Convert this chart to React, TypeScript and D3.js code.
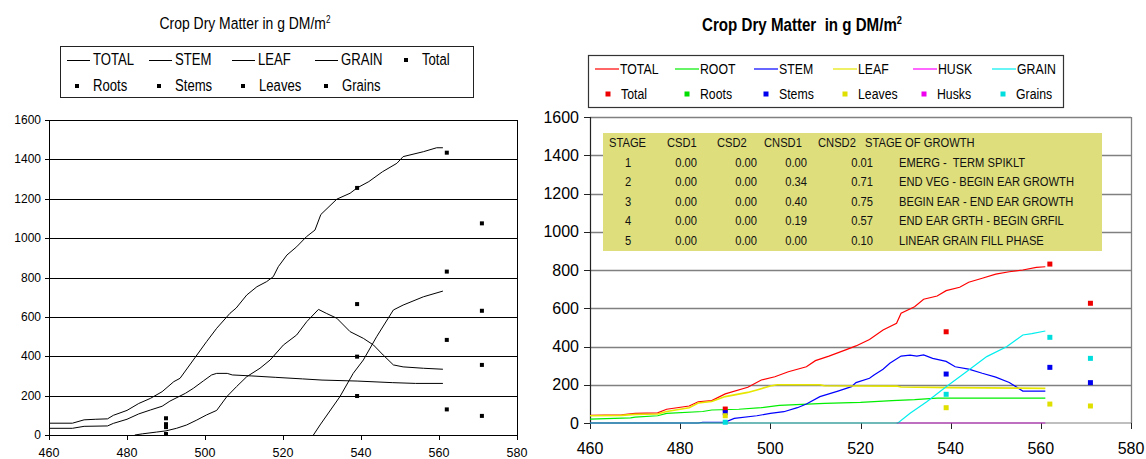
import React from 'react';
import * as d3 from 'd3';

type Pt = [number, number];

// ---- left chart (black lines) ----
const leftTotal: Pt[] = [
  [460, 60], [466, 60], [469, 77], [472, 80], [475, 82], [476.5, 100], [480, 125], [483, 160],
  [486, 186], [489, 220], [492, 271], [493.6, 288], [497, 381], [500.4, 474], [503, 542],
  [506.4, 618], [508, 645], [510.7, 711], [513.3, 753], [515.8, 779], [517.5, 804], [518.8, 855],
  [521, 914], [523.5, 956], [526, 1007], [528.2, 1041], [529.7, 1120], [533.8, 1198], [537.2, 1228],
  [539, 1255], [542, 1287], [545.5, 1337], [549.2, 1380], [550.8, 1414], [556, 1439], [559.4, 1459],
  [561, 1459],
];
const leftStem: Pt[] = [
  [482, 0], [484, 6], [487.6, 15], [490, 21], [492.7, 34], [495.3, 51], [497.9, 76], [500.4, 102],
  [503, 125], [505.6, 195], [508.1, 246], [510.7, 296], [514.1, 339], [516.7, 381], [520.1, 457],
  [523.5, 508], [526.1, 576], [529.1, 638], [531.1, 618], [533.8, 593], [537.2, 525], [540.6, 491],
  [543.2, 457], [545.7, 406], [548.3, 356], [550.8, 346], [556, 339], [561, 334],
];
const leftLeaf: Pt[] = [
  [460, 34], [466, 34], [469, 44], [475, 46], [476.5, 59], [480, 80], [483, 107], [486, 127],
  [489, 146], [491, 172], [495, 212], [497, 237], [499.6, 275], [501.7, 305], [503, 313],
  [505.7, 313], [507, 305], [512, 300], [518, 293], [525, 285], [530, 279], [539, 274],
  [548, 266], [554, 262], [561, 262],
];
const leftGrain: Pt[] = [
  [527.8, 0], [529.5, 51], [534.6, 195], [538, 313], [540.6, 381], [544, 499], [548.3, 635],
  [550.8, 660], [556, 702], [561, 731],
];

const sampleDays = [490, 539, 562, 571];
const leftObsTotal = [85, 1255, 1434, 1075];
const leftObsStems = [55, 665, 483, 356];
const leftObsLeaves = [40, 198, 130, 97];
const leftObsGrains = [5, 398, 830, 631];

// ---- right chart (coloured lines) ----
const rTotal: Pt[] = [
  [460, 40], [467, 43], [470, 50], [475, 53], [477, 72], [482, 89], [484, 111], [487, 117],
  [490, 152], [495, 187], [498, 225], [501, 242], [504, 268], [508, 294], [510, 326], [513, 350],
  [517, 385], [519, 403], [522, 437], [525, 486], [528, 521], [529, 574], [532, 608], [534, 647],
  [537, 664], [539, 692], [542, 710], [544, 736], [547, 757], [550, 778], [553, 791], [556, 800],
  [559, 814], [561, 817],
];
const rRoot: Pt[] = [
  [460, 20], [469, 27], [470, 31], [475, 38], [477, 50], [485, 60], [487, 68], [493, 72],
  [498, 80], [502, 92], [512, 103], [520, 108], [527, 117], [532, 122], [537, 130], [561, 130],
];
const rStem: Pt[] = [
  [460, 0], [484, 0], [485, 4], [490, 5], [492, 24], [497, 38], [500, 50], [503, 59], [506, 80],
  [508, 99], [511, 138], [515, 167], [518, 190], [519, 211], [522, 234], [523, 251], [525, 281],
  [526.5, 312], [529, 350], [531, 355], [532.5, 350], [534, 356], [536, 338], [539, 322],
  [541, 294], [544, 282], [547, 260], [550, 240], [553, 212], [556, 167], [561, 167],
];
const rLeaf: Pt[] = [
  [460, 38], [467, 40], [470, 45], [475, 47], [477, 60], [482, 80], [484, 105], [487, 112],
  [490, 138], [495, 160], [497, 173], [500, 193], [501.5, 200], [511, 200], [512, 195],
  [528, 193], [529, 188], [540, 185], [561, 181],
];
const rHusk: Pt[] = [[528, 0], [561, 0]];
const rGrain: Pt[] = [
  [460, 0], [528.3, 0], [531, 51], [534.7, 111], [539, 190], [543.5, 268], [548, 347],
  [552.4, 399], [556, 460], [558, 467], [561, 481],
];

const rObsTotal = [73, 477, 831, 626];
const rObsStems = [54, 256, 291, 211];
const rObsLeaves = [38, 80, 99, 89];
const rObsGrains = [4, 150, 448, 338];

const stageRows = ['1', '2', '3', '4', '5'];
const csd1 = ['0.00', '0.00', '0.00', '0.00', '0.00'];
const csd2 = ['0.00', '0.00', '0.00', '0.00', '0.00'];
const cnsd1 = ['0.00', '0.34', '0.40', '0.19', '0.00'];
const cnsd2 = ['0.01', '0.71', '0.75', '0.57', '0.10'];
const growthStage = [
  'EMERG -  TERM SPIKLT',
  'END VEG - BEGIN EAR GROWTH',
  'BEGIN EAR - END EAR GROWTH',
  'END EAR GRTH - BEGIN GRFIL',
  'LINEAR GRAIN FILL PHASE',
];

const xTicks = [460, 480, 500, 520, 540, 560, 580];
const yTicks = [0, 200, 400, 600, 800, 1000, 1200, 1400, 1600];

const ARIAL = "'Liberation Sans', Arial, sans-serif";

// condensed text: no narrow font installed, so squeeze horizontally
const NText = ({ x, y, sx = 0.82, children, ...rest }: any) => (
  <text transform={`translate(${x},${y}) scale(${sx},1)`} fontFamily={ARIAL} style={{ whiteSpace: 'pre' }} {...rest}>
    {children}
  </text>
);

const LeftChart = () => {
  const x = d3.scaleLinear().domain([460, 580]).range([49, 517]);
  const y = d3.scaleLinear().domain([0, 1600]).range([435, 120]);
  const line = d3.line<Pt>().x(d => x(d[0])).y(d => y(d[1]));
  const px = (v: number) => Math.round(v) + 0.5;

  const legendLines = [
    { label: 'TOTAL', x: 67 },
    { label: 'STEM', x: 149 },
    { label: 'LEAF', x: 232 },
    { label: 'GRAIN', x: 315 },
  ];
  const legendMarks = [
    { label: 'Total', x: 406, y: 60 },
    { label: 'Roots', x: 77, y: 86 },
    { label: 'Stems', x: 159, y: 86 },
    { label: 'Leaves', x: 243, y: 86 },
    { label: 'Grains', x: 326, y: 86 },
  ];
  const obs = [leftObsTotal, leftObsStems, leftObsLeaves, leftObsGrains];

  return (
    <g>
      <NText x={245} y={29} textAnchor="middle" fontSize={17}>
        Crop Dry Matter in g DM/m<tspan dy={-6} fontSize={10}>2</tspan>
      </NText>
      <rect x={60.5} y={46.5} width={413} height={51} fill="#fff" stroke="#222" strokeWidth={1} />
      {legendLines.map(l => (
        <g key={l.label}>
          <line x1={l.x} x2={l.x + 23} y1={60.5} y2={60.5} stroke="#000" />
          <NText x={l.x + 26} y={65} fontSize={16}>{l.label}</NText>
        </g>
      ))}
      {legendMarks.map(m => (
        <g key={m.label}>
          <rect x={m.x - 2} y={m.y - 2} width={4} height={4} fill="#000" />
          <NText x={m.x + 16} y={m.y + 4.5} fontSize={16}>{m.label}</NText>
        </g>
      ))}

      {yTicks.map(t => (
        <g key={t}>
          <line x1={45} x2={517} y1={px(y(t))} y2={px(y(t))} stroke="#000" strokeWidth={1} />
          <text x={41} y={y(t) + 4} textAnchor="end" fontFamily={ARIAL} fontSize={12}>{t}</text>
        </g>
      ))}
      <line x1={px(x(460))} x2={px(x(460))} y1={120} y2={435} stroke="#000" />
      <line x1={px(x(580))} x2={px(x(580))} y1={120} y2={435} stroke="#000" />
      {xTicks.map(t => (
        <g key={t}>
          <line x1={px(x(t))} x2={px(x(t))} y1={435} y2={440} stroke="#000" />
          <text x={x(t)} y={456.5} textAnchor="middle" fontFamily={ARIAL} fontSize={12.5}>{t}</text>
        </g>
      ))}

      {[leftTotal, leftStem, leftLeaf, leftGrain].map((s, i) => (
        <path key={i} d={line(s) || ''} fill="none" stroke="#000" strokeWidth={1} />
      ))}
      {obs.map((vals, i) =>
        vals.map((v, j) => (
          <rect key={`${i}-${j}`} x={x(sampleDays[j]) - 2} y={y(v) - 2} width={4} height={4} fill="#000" />
        ))
      )}
    </g>
  );
};

const RightChart = () => {
  const x = d3.scaleLinear().domain([460, 580]).range([590, 1131]);
  const y = d3.scaleLinear().domain([0, 1600]).range([423, 117]);
  const line = d3.line<Pt>().x(d => x(d[0])).y(d => y(d[1]));
  const px = (v: number) => Math.round(v) + 0.5;

  const series = [
    { label: 'TOTAL', data: rTotal, color: '#ff0000', lx: 595 },
    { label: 'ROOT', data: rRoot, color: '#00ee00', lx: 675 },
    { label: 'STEM', data: rStem, color: '#0000ff', lx: 754 },
    { label: 'LEAF', data: rLeaf, color: '#e6e600', lx: 833 },
    { label: 'HUSK', data: rHusk, color: '#ff00ff', lx: 913 },
    { label: 'GRAIN', data: rGrain, color: '#00eeee', lx: 992 },
  ];
  const marks = [
    { label: 'Total', color: '#ee0000', lx: 608, vals: rObsTotal },
    { label: 'Roots', color: '#00dd00', lx: 687, vals: [] as number[] },
    { label: 'Stems', color: '#0000ee', lx: 766, vals: rObsStems },
    { label: 'Leaves', color: '#e0e000', lx: 845, vals: rObsLeaves },
    { label: 'Husks', color: '#ee00ee', lx: 924, vals: [] as number[] },
    { label: 'Grains', color: '#00dddd', lx: 1003, vals: rObsGrains },
  ];
  const rowY = [162, 181.5, 201, 220.5, 240];
  const TS = 0.86;

  return (
    <g>
      <NText x={802} y={30.5} sx={0.84} textAnchor="middle" fontWeight="bold" fontSize={18}>
        Crop Dry Matter  in g DM/m<tspan dy={-7} fontSize={11}>2</tspan>
      </NText>
      <rect x={588.5} y={55.5} width={475} height={52} fill="#fff" stroke="#333" strokeWidth={1.2} />
      {series.map(s => (
        <g key={s.label}>
          <line x1={s.lx} x2={s.lx + 24} y1={69} y2={69} stroke={s.color} strokeWidth={1.2} />
          <NText x={s.lx + 25} y={74} fontSize={15}>{s.label}</NText>
        </g>
      ))}
      {marks.map(m => (
        <g key={m.label}>
          <rect x={m.lx - 2.5} y={91.5} width={5} height={5} fill={m.color} />
          <NText x={m.lx + 13} y={98.5} fontSize={15}>{m.label}</NText>
        </g>
      ))}

      {yTicks.map(t => (
        <g key={t}>
          {t > 0 && (
            <line x1={590} x2={1131} y1={px(y(t))} y2={px(y(t))} stroke="#808080" strokeWidth={1.3} />
          )}
          <line x1={584} x2={590} y1={px(y(t))} y2={px(y(t))} stroke="#222" />
          <text x={579} y={y(t) + 5.5} textAnchor="end" fontFamily={ARIAL} fontSize={16}>{t}</text>
        </g>
      ))}
      <line x1={px(x(580))} x2={px(x(580))} y1={117} y2={423} stroke="#808080" strokeWidth={1.3} />
      <line x1={px(x(460))} x2={px(x(460))} y1={117} y2={424} stroke="#222" strokeWidth={1.2} />
      {xTicks.map(t => (
        <g key={t}>
          <line x1={px(x(t))} x2={px(x(t))} y1={423} y2={429} stroke="#222" />
          <text x={x(t)} y={453.5} textAnchor="middle" fontFamily={ARIAL} fontSize={16}>{t}</text>
        </g>
      ))}

      {/* stage table */}
      <rect x={603} y={133} width={499} height={118} fill="#dede7c" />
      <g fill="#111">
        <NText x={609} y={146.5} sx={TS} fontSize={13}>STAGE</NText>
        <NText x={667} y={146.5} sx={TS} fontSize={13}>CSD1</NText>
        <NText x={717} y={146.5} sx={TS} fontSize={13}>CSD2</NText>
        <NText x={764} y={146.5} sx={TS} fontSize={13}>CNSD1</NText>
        <NText x={818} y={146.5} sx={TS} fontSize={13}>CNSD2</NText>
        <NText x={865} y={146.5} sx={TS} fontSize={13}>STAGE OF GROWTH</NText>
        {stageRows.map((s, i) => (
          <g key={s}>
            <NText x={628} y={rowY[i] + 4.5} sx={TS} fontSize={13} textAnchor="middle">{s}</NText>
            <NText x={697} y={rowY[i] + 4.5} sx={TS} fontSize={13} textAnchor="end">{csd1[i]}</NText>
            <NText x={757} y={rowY[i] + 4.5} sx={TS} fontSize={13} textAnchor="end">{csd2[i]}</NText>
            <NText x={807} y={rowY[i] + 4.5} sx={TS} fontSize={13} textAnchor="end">{cnsd1[i]}</NText>
            <NText x={873} y={rowY[i] + 4.5} sx={TS} fontSize={13} textAnchor="end">{cnsd2[i]}</NText>
            <NText x={899} y={rowY[i] + 4.5} sx={TS} fontSize={13}>{growthStage[i]}</NText>
          </g>
        ))}
      </g>

      {series.map(s => (
        <path key={s.label} d={line(s.data) || ''} fill="none" stroke={s.color}
          strokeWidth={s.label === 'LEAF' ? 1.6 : 1.2} />
      ))}
      <line x1={590} x2={1131} y1={423} y2={423} stroke="#555" strokeWidth={1.5} strokeOpacity={0.5} />
      {marks.map(m =>
        m.vals.map((v, j) => (
          <rect key={`${m.label}-${j}`} x={x(sampleDays[j]) - 2.5} y={y(v) - 2.5} width={5} height={5} fill={m.color} />
        ))
      )}
    </g>
  );
};

export default function App() {
  return (
    <div style={{ position: 'absolute', left: 0, top: 0, background: '#fff' }}>
      <svg width={1146} height={459} viewBox="0 0 1146 459" style={{ display: 'block' }}>
        <rect width={1146} height={459} fill="#fff" />
        <LeftChart />
        <RightChart />
      </svg>
    </div>
  );
}
